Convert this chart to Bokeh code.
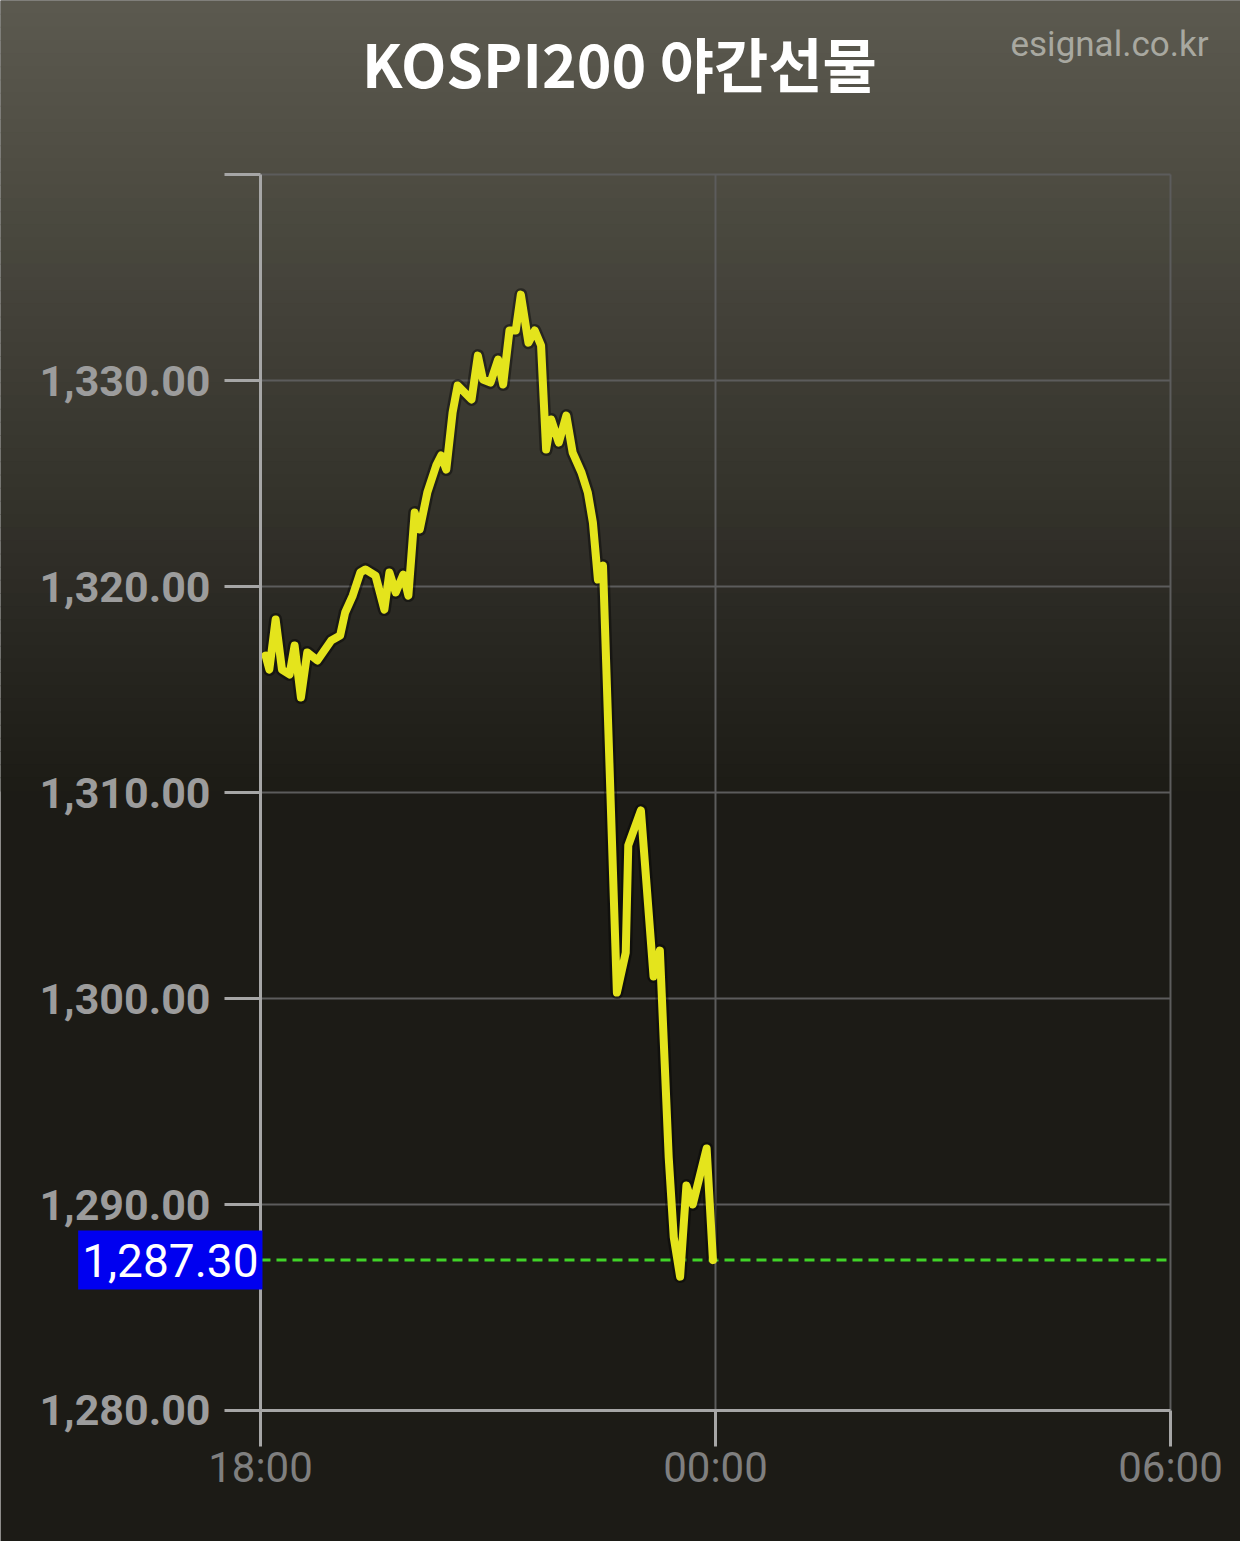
from bokeh.plotting import figure
from bokeh.models import (FixedTicker, BoxAnnotation, Label, LinearAxis, ColumnDataSource, Range1d)
from bokeh.embed import file_html
from bokeh.resources import INLINE

# ---- data ----
title_text = "KOSPI200 야간선물"
watermark = "esignal.co.kr"
minutes_since_1800 = [4, 7, 12, 17, 23, 27, 32, 37, 45, 56, 63, 67, 73, 79, 83, 91, 98, 102, 107, 113,
                      117, 122, 126, 132, 139, 143, 147, 152, 156, 167, 172, 176, 182, 188, 192, 197, 202, 206, 212, 217,
                      222, 226, 230, 236, 242, 247, 254, 259, 263, 267, 271, 282, 289, 291, 301, 311, 316, 323, 327, 332,
                      337, 342, 353, 358]
prices = [1316.65, 1315.97, 1318.40, 1315.97, 1315.73, 1317.14, 1314.61, 1316.80, 1316.41, 1317.38,
          1317.62, 1318.74, 1319.56, 1320.68, 1320.83, 1320.53, 1318.88, 1320.68, 1319.71, 1320.58,
          1319.56, 1323.59, 1322.77, 1324.56, 1325.87, 1326.36, 1325.68, 1328.45, 1329.76, 1329.08,
          1331.21, 1330.05, 1329.90, 1331.02, 1329.81, 1332.43, 1332.43, 1334.17, 1331.84, 1332.43,
          1331.70, 1326.65, 1328.11, 1326.99, 1328.30, 1326.50, 1325.53, 1324.56, 1323.11, 1320.34,
          1321.02, 1300.29, 1302.23, 1307.43, 1309.13, 1301.07, 1302.33, 1292.28, 1288.40, 1286.50,
          1290.92, 1290.00, 1292.72, 1287.30]
last_price = 1287.30
x_tick_minutes = [0, 360, 720]
x_tick_labels = ["18:00", "00:00", "06:00"]
y_ticks = [1280, 1290, 1300, 1310, 1320, 1330, 1340]
y_tick_labels = ["1,280.00", "1,290.00", "1,300.00", "1,310.00", "1,320.00", "1,330.00", ""]

W, H = 1240, 1541
x0, x1 = x_tick_minutes[0], x_tick_minutes[-1]
y0, y1 = y_ticks[0], y_ticks[-1]

# the frame covers the whole canvas; the axes sit at fixed locations inside it
p = figure(width=W, height=H, output_backend="svg", toolbar_location=None,
           x_range=Range1d(-205.7, 775.4), y_range=Range1d(1273.64, 1348.45),
           x_axis_location=None, y_axis_location=None,
           min_border=0, min_border_left=0, min_border_right=0,
           min_border_top=0, min_border_bottom=0)
p.outline_line_color = None
p.background_fill_color = "#1c1b16"
p.border_fill_color = "#1c1b16"
p.xgrid.visible = False
p.ygrid.visible = False

# gradient background (top of the canvas)
top = (92, 90, 79)
bot = (28, 27, 22)
gy0, gy1 = 0, 790
steps = 60
for i in range(steps):
    f = (i + 0.5) / steps
    c = tuple(int(round(top[k] + (bot[k] - top[k]) * f)) for k in range(3))
    b0 = gy0 + (gy1 - gy0) * i / steps
    b1 = gy0 + (gy1 - gy0) * (i + 1) / steps + 1
    p.add_layout(BoxAnnotation(left=0, right=W, top=b0, bottom=b1,
                               left_units="canvas", right_units="canvas",
                               top_units="canvas", bottom_units="canvas",
                               fill_color="#%02x%02x%02x" % c, fill_alpha=1, line_color=None,
                               level="underlay", propagate_hover=False))

# grid lines (limited to the chart area)
p.segment(x0=[x0] * (len(y_ticks) - 1), y0=y_ticks[1:], x1=[x1] * (len(y_ticks) - 1), y1=y_ticks[1:],
          line_color="#5c5c5c", line_width=2)
p.segment(x0=x_tick_minutes[1:], y0=[y0] * (len(x_tick_minutes) - 1), x1=x_tick_minutes[1:],
          y1=[y1] * (len(x_tick_minutes) - 1), line_color="#5c5c5c", line_width=2)

# axes
xaxis = LinearAxis(fixed_location=y0, bounds=(x0, x1), ticker=FixedTicker(ticks=x_tick_minutes),
                   major_label_overrides=dict(zip(x_tick_minutes, x_tick_labels)))
yaxis = LinearAxis(fixed_location=x0, bounds=(y0, y1), ticker=FixedTicker(ticks=y_ticks),
                   major_label_overrides=dict(zip(y_ticks, y_tick_labels)))
for ax in (xaxis, yaxis):
    ax.axis_line_color = "#a6a6a6"
    ax.axis_line_width = 3
    ax.major_tick_line_color = "#a6a6a6"
    ax.major_tick_line_width = 3
    ax.major_tick_out = 36
    ax.major_tick_in = 0
    ax.minor_tick_line_color = None
yaxis.major_label_text_font = "Roboto"
yaxis.major_label_text_font_style = "bold"
yaxis.major_label_text_font_size = "43px"
yaxis.major_label_text_color = "#9c9c9c"
yaxis.major_label_standoff = 14
xaxis.major_label_text_font = "Roboto"
xaxis.major_label_text_font_size = "42px"
xaxis.major_label_text_color = "#7f7f7f"
xaxis.major_label_standoff = -3
p.add_layout(xaxis, "below")
p.add_layout(yaxis, "left")

# last price dashed line
p.segment(x0=[x0], y0=[last_price], x1=[x1], y1=[last_price], line_color="#40d428",
          line_width=3, line_dash="10 6")

# data line with shadow
src = ColumnDataSource(dict(t=minutes_since_1800, v=prices))
p.line("t", "v", source=src, line_color="#000000", line_alpha=0.4, line_width=13, line_join="round")
p.line("t", "v", source=src, line_color="#e4e41c", line_width=8, line_join="round", line_cap="round")

# last price label
p.add_layout(Label(x=x0, y=last_price, text=f"{last_price:,.2f}", text_align="right",
                   text_baseline="middle", x_offset=2, text_font="Roboto",
                   text_font_size="46px", text_color="white",
                   background_fill_color="#0000f0",
                   padding=dict(left=4, right=4, top=13, bottom=13)))

# title & watermark
p.add_layout(Label(x=619, y=62, x_units="canvas", y_units="canvas", text=title_text,
                   text_align="center", text_baseline="middle", text_font="Noto Sans CJK KR",
                   text_font_style="bold", text_font_size="59px", text_color="white"))
p.add_layout(Label(x=1208, y=44, x_units="canvas", y_units="canvas", text=watermark,
                   text_align="right", text_baseline="middle", text_font="Roboto",
                   text_font_size="35px", text_color="#a8a8a0"))

open("out.html", "w").write(file_html(p, INLINE))
